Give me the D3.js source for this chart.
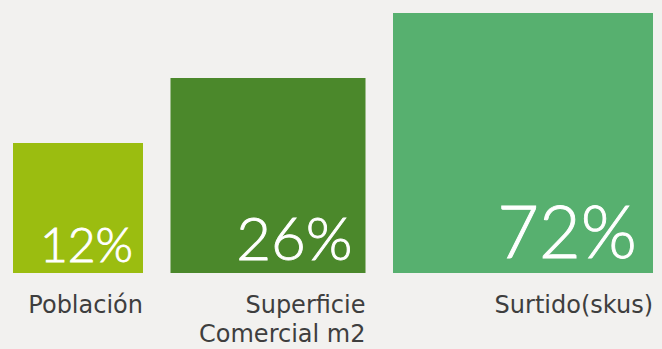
<!DOCTYPE html>
<html>
<head>
<meta charset="utf-8">
<script src="https://cdn.jsdelivr.net/npm/d3@7"></script>
<style>
  html, body { margin: 0; padding: 0; background: #f2f1ef; }
  svg { display: block; }
</style>
</head>
<body>
<svg id="chart" width="662" height="349"></svg>
<script>
// Share of each factor
const categories = ["Población", "Superficie\nComercial m2", "Surtido(skus)"];
const values = [12, 26, 72];
const valueLabels = ["12%", "26%", "72%"];
const colors = ["#9bbd10", "#4b882b", "#57b06f"];

const baseY = 273;      // common bottom edge of the squares
const left = 13;
const gap = 27.5;

const svg = d3.select("#chart");

// squares grow by rank of their value
const order = values.map((v, i) => i).sort((a, b) => values[a] - values[b]);
const rankOf = new Array(values.length);
order.forEach((idx, r) => { rankOf[idx] = r; });

const last = values.length - 1;
const side = d3.scaleLinear().domain([0, last]).range([130, 260]);
const fontSize = d3.scaleLinear().domain([0, last]).range([48, 72]);
const padRight = d3.scaleLinear().domain([0, last]).range([10, 16]);
const padBottom = d3.scaleLinear().domain([0, last]).range([11, 15]);

const data = values.map((v, i) => ({
  cat: categories[i], value: v, label: valueLabels[i], color: colors[i], size: side(rankOf[i]), rank: rankOf[i]
}));
let cx = left;
data.forEach(d => { d.x = cx; cx += d.size + gap; });

const g = svg.selectAll("g.item").data(data).join("g").attr("class", "item");

g.append("rect")
  .attr("x", d => d.x)
  .attr("y", d => baseY - d.size)
  .attr("width", d => d.size)
  .attr("height", d => d.size)
  .attr("fill", d => d.color);

g.append("text")
  .attr("x", d => d.x + d.size - padRight(d.rank))
  .attr("y", d => baseY - padBottom(d.rank))
  .attr("text-anchor", "end")
  .attr("fill", "#ffffff")
  .attr("stroke", "#ffffff")
  .attr("stroke-width", 0.9)
  .attr("font-family", "Lato, sans-serif")
  .attr("font-weight", 300)
  .attr("font-size", d => fontSize(d.rank))
  .text(d => d.label);

g.append("text")
  .attr("text-anchor", "end")
  .attr("fill", "#3e3e3e")
  .attr("font-family", "'DejaVu Sans', sans-serif")
  .attr("font-size", 24)
  .selectAll("tspan")
  .data(d => d.cat.split("\n").map((t, k) => ({ t, k, d })))
  .join("tspan")
  .attr("x", o => o.d.x + o.d.size)
  .attr("y", o => 313 + o.k * 29)
  .text(o => o.t);
</script>
</body>
</html>
